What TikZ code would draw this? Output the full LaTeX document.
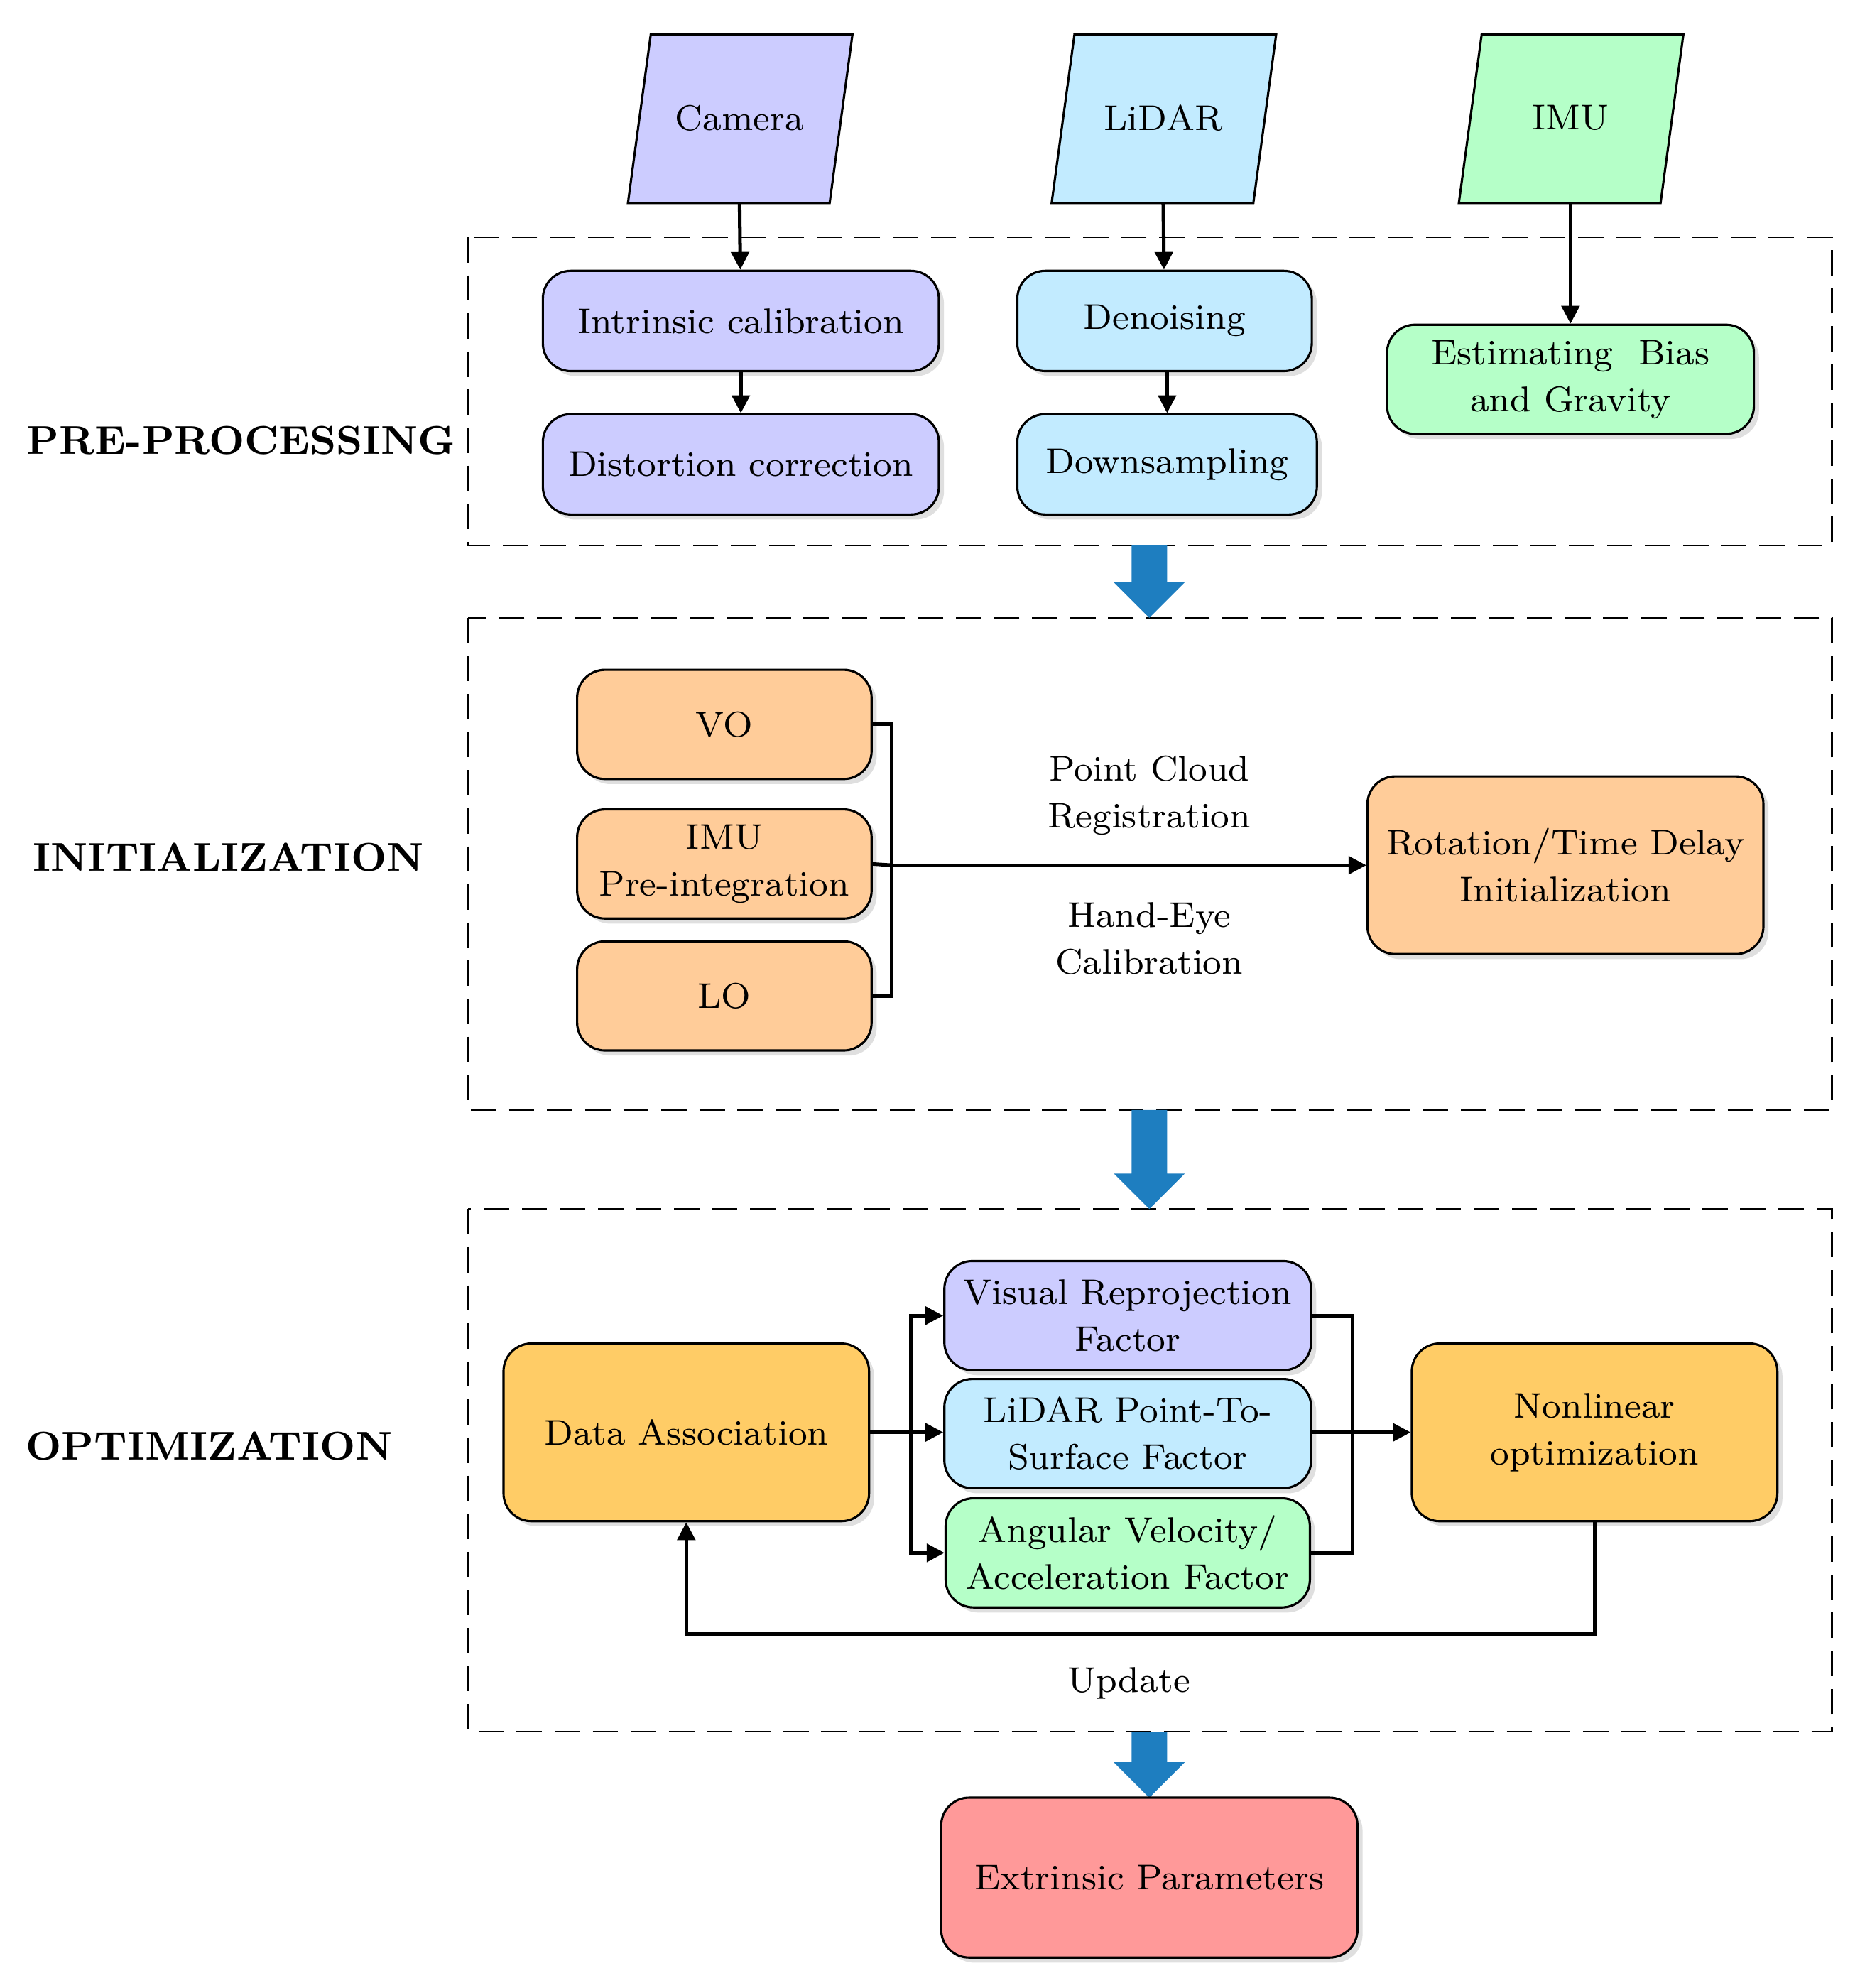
\documentclass[tikz,border=0pt]{standalone}
\usetikzlibrary{shadows,arrows.meta}
\definecolor{cpur}{HTML}{CCCCFF}
\definecolor{cblu}{HTML}{C2EBFF}
\definecolor{cgrn}{HTML}{B5FFC8}
\definecolor{corg}{HTML}{FFCC99}
\definecolor{cgld}{HTML}{FFCC66}
\definecolor{cred}{HTML}{FF9999}
\definecolor{carr}{HTML}{1E7EC0}
\begin{document}
\begin{tikzpicture}[x=0.01cm,y=-0.01cm,
  every node/.style={font=\fontsize{8}{10.5}\selectfont, align=center, inner sep=0pt},
  box/.style={draw, rounded corners=0.22cm, line width=0.5pt, drop shadow={shadow xshift=0.04cm, shadow yshift=-0.04cm, opacity=0.25}},
  dbox/.style={draw, dashed, dash pattern=on 0.2cm off 0.1cm, line width=0.4pt},
  arr/.style={-{Triangle[length=0.14cm,width=0.14cm]}, line width=0.8pt},
  ln/.style={line width=0.8pt},
  lbl/.style={font=\bfseries\fontsize{9}{11}\selectfont}]
\useasboundingbox (0,0) rectangle (1466,1567);
% parallelograms
\filldraw[fill=cpur, line width=0.5pt] (513,27) -- (672,27) -- (654,160) -- (495,160) -- cycle;
\filldraw[fill=cblu, line width=0.5pt] (847,27) -- (1006,27) -- (988,160) -- (829,160) -- cycle;
\filldraw[fill=cgrn, line width=0.5pt] (1168,27) -- (1327,27) -- (1309,160) -- (1150,160) -- cycle;
\node (cam) at (583,93) {Camera};
\node (lid) at (917,93) {LiDAR};
\node (imu) at (1238,93) {IMU};
\coordinate (camb) at (583,160);
\coordinate (lidb) at (917,160);
\coordinate (imub) at (1238,160);
% dashed boxes
\draw[dbox] (369,187) rectangle (1444,430);
\draw[dbox] (369,487) rectangle (1444,875);
\draw[dbox] (369,953) rectangle (1444,1365);
\node[lbl] (lp) at (190,347) {PRE-PROCESSING};
\node[lbl] (li) at (180,676) {INITIALIZATION};
\node[lbl] (lo) at (165,1140) {OPTIMIZATION};
% preprocessing
\node[box, fill=cpur, minimum width=3.12cm, minimum height=0.79cm] (intr) at (584,253) {Intrinsic calibration};
\node[box, fill=cpur, minimum width=3.12cm, minimum height=0.79cm] (dist) at (584,366) {Distortion correction};
\node[box, fill=cblu, minimum width=2.32cm, minimum height=0.79cm] (den) at (918,253) {Denoising};
\node[box, fill=cblu, minimum width=2.36cm, minimum height=0.79cm] (down) at (920,366) {Downsampling};
\node[box, fill=cgrn, minimum width=2.89cm, minimum height=0.86cm] (est) at (1238,299) {Estimating~ Bias\\and Gravity};
\draw[arr] (camb) -- (intr);
\draw[arr] (intr) -- (dist);
\draw[arr] (lidb) -- (den);
\draw[arr] (den.south -| down) -- (down);
\draw[arr] (imub) -- (est);
% block arrows
\foreach \t/\b in {430/487, 875/953, 1365/1417}{
  \fill[carr] (892,\t) -- (920,\t) -- ({920},{\b-28}) -- (934,{\b-28}) -- (906,\b) -- (878,{\b-28}) -- (892,{\b-28}) -- cycle;}
% initialization
\node[box, fill=corg, minimum width=2.32cm, minimum height=0.86cm] (vo) at (571,571) {VO};
\node[box, fill=corg, minimum width=2.32cm, minimum height=0.86cm] (ipre) at (571,681) {IMU\\Pre-integration};
\node[box, fill=corg, minimum width=2.32cm, minimum height=0.86cm] (lo2) at (571,785) {LO};
\node[box, fill=corg, minimum width=3.12cm, minimum height=1.40cm] (rot) at (1234,682) {Rotation/Time Delay\\Initialization};
\coordinate (bj) at (703,682);
\draw[ln] (vo.east) -- (703,571) -- (703,785) -- (lo2.east);
\draw[ln] (ipre.east) -- (bj);
\draw[arr] (bj) -- (rot);
\node (pcr) at (906,627) {Point Cloud\\Registration};
\node (hec) at (906,740) {Hand-Eye\\Calibration};
% optimization
\node[box, fill=cgld, minimum width=2.88cm, minimum height=1.40cm] (da) at (541,1129) {Data Association};
\node[box, fill=cpur, minimum width=2.89cm, minimum height=0.86cm] (vis) at (889,1037) {Visual Reprojection\\Factor};
\node[box, fill=cblu, minimum width=2.89cm, minimum height=0.86cm] (lps) at (889,1130) {LiDAR Point-To-\\Surface Factor};
\node[box, fill=cgrn, minimum width=2.87cm, minimum height=0.86cm] (ang) at (889,1224) {Angular Velocity/\\Acceleration Factor};
\node[box, fill=cgld, minimum width=2.88cm, minimum height=1.40cm] (nl) at (1257,1129) {Nonlinear\\optimization};
\coordinate (sp) at (718,1129);
\coordinate (mg) at (1066,1129);
\draw[ln] (da.east) -- (sp);
\draw[arr] (sp) |- (vis.west);
\draw[arr] (sp) -- (lps.west |- sp);
\draw[arr] (sp) |- (ang.west);
\draw[ln] (vis.east) -| (mg);
\draw[ln] (ang.east) -| (mg);
\draw[ln] (lps.east |- mg) -- (mg);
\draw[arr] (mg) -- (nl.west);
\draw[arr] (nl.south) -- (1257,1288) -- (541,1288) -- (da.south);
\node (upd) at (890,1327) {Update};
\node[box, fill=cred, minimum width=3.28cm, minimum height=1.26cm] (ext) at (906,1480) {Extrinsic Parameters};
\end{tikzpicture}
\end{document}
